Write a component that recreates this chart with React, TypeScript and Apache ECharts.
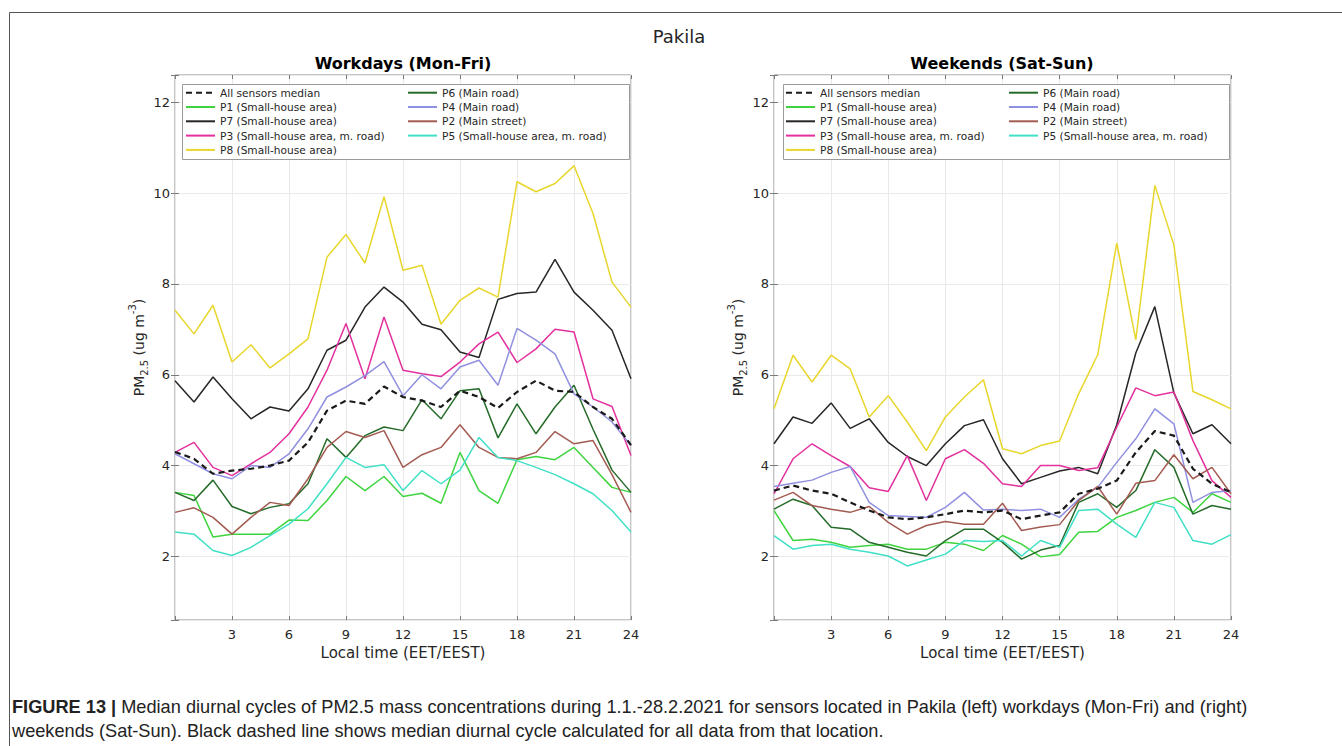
import React, { useEffect, useRef } from "react";
import * as echarts from "echarts";

const hours = [0, 1, 2, 3, 4, 5, 6, 7, 8, 9, 10, 11, 12, 13, 14, 15, 16, 17, 18, 19, 20, 21, 22, 23, 24];
const xTicks = [3, 6, 9, 12, 15, 18, 21, 24];

const seriesNames = [
  "All sensors median",
  "P1 (Small-house area)",
  "P7 (Small-house area)",
  "P3 (Small-house area, m. road)",
  "P8 (Small-house area)",
  "P6 (Main road)",
  "P4 (Main road)",
  "P2 (Main street)",
  "P5 (Small-house area, m. road)",
];
const legendCol1 = seriesNames.slice(0, 5);
const legendCol2 = seriesNames.slice(5);

const colors: Record<string, string> = {
  "All sensors median": "#1a1a1a",
  "P1 (Small-house area)": "#3fd43f",
  "P7 (Small-house area)": "#262626",
  "P3 (Small-house area, m. road)": "#e3309d",
  "P8 (Small-house area)": "#e8d62c",
  "P6 (Main road)": "#256b29",
  "P4 (Main road)": "#9090e0",
  "P2 (Main street)": "#a35b52",
  "P5 (Small-house area, m. road)": "#40e0c6",
};

// Workdays (Mon-Fri)
const wdMedian = [4.3, 4.15, 3.82, 3.89, 3.93, 4.0, 4.11, 4.51, 5.21, 5.43, 5.36, 5.74, 5.51, 5.43, 5.29, 5.65, 5.51, 5.27, 5.62, 5.87, 5.65, 5.62, 5.29, 5.03, 4.45];
const wdP1 = [3.41, 3.34, 2.43, 2.49, 2.49, 2.49, 2.8, 2.79, 3.23, 3.76, 3.45, 3.76, 3.32, 3.39, 3.17, 4.29, 3.45, 3.17, 4.13, 4.2, 4.13, 4.4, 3.96, 3.52, 3.41];
const wdP7 = [5.87, 5.4, 5.95, 5.47, 5.03, 5.29, 5.2, 5.69, 6.54, 6.76, 7.49, 7.93, 7.6, 7.11, 6.99, 6.5, 6.38, 7.66, 7.79, 7.82, 8.54, 7.82, 7.42, 6.98, 5.91];
const wdP3 = [4.29, 4.51, 3.96, 3.78, 4.04, 4.29, 4.7, 5.29, 6.1, 7.13, 5.91, 7.27, 6.1, 6.02, 5.96, 6.28, 6.68, 6.94, 6.27, 6.57, 7.0, 6.94, 5.47, 5.3, 4.22];
const wdP8 = [7.42, 6.9, 7.53, 6.28, 6.66, 6.15, 6.46, 6.79, 8.59, 9.09, 8.46, 9.92, 8.3, 8.41, 7.11, 7.64, 7.91, 7.71, 10.25, 10.03, 10.21, 10.6, 9.55, 8.04, 7.49];
const wdP6 = [3.41, 3.23, 3.68, 3.1, 2.94, 3.08, 3.16, 3.6, 4.59, 4.18, 4.66, 4.85, 4.77, 5.45, 5.03, 5.65, 5.69, 4.61, 5.36, 4.7, 5.29, 5.77, 4.8, 3.9, 3.41];
const wdP4 = [4.26, 4.04, 3.82, 3.71, 4.0, 3.96, 4.26, 4.81, 5.51, 5.73, 5.98, 6.29, 5.54, 6.0, 5.69, 6.17, 6.32, 5.77, 7.02, 6.76, 6.46, 5.58, 5.29, 4.96, 4.44];
const wdP2 = [2.97, 3.07, 2.86, 2.49, 2.86, 3.19, 3.12, 3.71, 4.4, 4.75, 4.62, 4.77, 3.96, 4.24, 4.4, 4.9, 4.4, 4.18, 4.15, 4.29, 4.75, 4.48, 4.55, 3.8, 2.97];
const wdP5 = [2.54, 2.49, 2.13, 2.02, 2.2, 2.46, 2.71, 3.05, 3.6, 4.18, 3.96, 4.02, 3.45, 3.89, 3.6, 3.9, 4.62, 4.18, 4.11, 3.96, 3.8, 3.6, 3.38, 3.01, 2.54];

// Weekends (Sat-Sun)
const weMedian = [3.45, 3.56, 3.45, 3.38, 3.19, 3.01, 2.86, 2.82, 2.86, 2.93, 3.01, 2.97, 3.01, 2.82, 2.9, 2.97, 3.38, 3.49, 3.67, 4.29, 4.76, 4.66, 3.93, 3.6, 3.41];
const weP1 = [3.01, 2.35, 2.38, 2.31, 2.2, 2.24, 2.27, 2.16, 2.16, 2.31, 2.27, 2.13, 2.46, 2.27, 1.99, 2.04, 2.53, 2.55, 2.86, 3.01, 3.19, 3.3, 2.97, 3.38, 3.19];
const weP7 = [4.48, 5.07, 4.93, 5.38, 4.82, 5.03, 4.51, 4.2, 4.0, 4.48, 4.88, 5.01, 4.15, 3.6, 3.74, 3.88, 3.96, 3.82, 4.9, 6.48, 7.5, 5.6, 4.7, 4.9, 4.48];
const weP3 = [3.38, 4.15, 4.48, 4.22, 3.98, 3.51, 3.43, 4.22, 3.23, 4.15, 4.35, 4.05, 3.6, 3.54, 4.0, 4.0, 3.89, 3.95, 4.85, 5.71, 5.54, 5.62, 4.55, 3.67, 3.3];
const weP8 = [5.25, 6.43, 5.84, 6.43, 6.13, 5.07, 5.54, 4.96, 4.33, 5.07, 5.51, 5.89, 4.37, 4.26, 4.44, 4.54, 5.58, 6.44, 8.9, 6.77, 10.17, 8.86, 5.63, 5.45, 5.25];
const weP6 = [3.04, 3.26, 3.12, 2.64, 2.6, 2.31, 2.2, 2.09, 2.01, 2.35, 2.6, 2.6, 2.31, 1.94, 2.14, 2.24, 3.19, 3.38, 3.08, 3.45, 4.35, 3.96, 2.93, 3.12, 3.04];
const weP4 = [3.54, 3.61, 3.68, 3.85, 3.98, 3.19, 2.9, 2.88, 2.86, 3.08, 3.41, 3.02, 3.04, 3.01, 3.04, 2.86, 3.26, 3.52, 4.07, 4.59, 5.25, 4.92, 3.19, 3.41, 3.45];
const weP2 = [3.24, 3.41, 3.12, 3.04, 2.97, 3.1, 2.75, 2.49, 2.68, 2.77, 2.71, 2.71, 3.17, 2.57, 2.65, 2.7, 3.23, 3.54, 2.93, 3.61, 3.67, 4.24, 3.71, 3.96, 3.38];
const weP5 = [2.46, 2.16, 2.24, 2.27, 2.16, 2.09, 2.01, 1.79, 1.92, 2.05, 2.35, 2.33, 2.35, 2.01, 2.35, 2.2, 3.01, 3.04, 2.71, 2.42, 3.19, 3.08, 2.35, 2.27, 2.48];

const workdays = [wdMedian, wdP1, wdP7, wdP3, wdP8, wdP6, wdP4, wdP2, wdP5];
const weekends = [weMedian, weP1, weP7, weP3, weP8, weP6, weP4, weP2, weP5];

const Y_MIN = 0.6;
const Y_MAX = 12.6;
const FONT = "DejaVu Sans";
const TXT = "#262626";
const CAP_FONT = "Liberation Sans";

const captionLine1Bold = "FIGURE 13 |";
const captionLine1 = " Median diurnal cycles of PM2.5 mass concentrations during 1.1.-28.2.2021 for sensors located in Pakila (left) workdays (Mon-Fri) and (right)";
const captionLine2 = "weekends (Sat-Sun). Black dashed line shows median diurnal cycle calculated for all data from that location.";

function buildOption() {
  const grids = [
    { left: 175, top: 75, width: 456, height: 545 },
    { left: 774, top: 75, width: 457, height: 545 },
  ].map((g) => ({ ...g, show: true, borderColor: "#8a8a8a", borderWidth: 1, backgroundColor: "#fff" }));

  const tickStyle = { show: true, inside: true, length: 4, lineStyle: { color: "#7a7a7a", width: 1 } };

  const xMain = (gi: number) => ({
    type: "value",
    gridIndex: gi,
    position: "bottom",
    min: 0,
    max: 24,
    interval: 3,
    axisLine: { show: false },
    axisTick: tickStyle,
    splitLine: { show: true, lineStyle: { color: "#e9e9e9", width: 1 } },
    axisLabel: {
      margin: 8,
      fontFamily: FONT,
      fontSize: 13,
      color: TXT,
      formatter: (v: number) => (xTicks.indexOf(v) >= 0 ? String(v) : ""),
    },
    name: "Local time (EET/EEST)",
    nameLocation: "middle",
    nameGap: 25,
    nameTextStyle: { fontFamily: FONT, fontSize: 15, color: TXT },
  });
  const xTop = (gi: number) => ({
    type: "value",
    gridIndex: gi,
    position: "top",
    min: 0,
    max: 24,
    interval: 3,
    axisLine: { show: false },
    axisTick: tickStyle,
    splitLine: { show: false },
    axisLabel: { show: false },
  });
  const yLabelFmt = (v: number) => {
    const r = Math.round(v);
    return Math.abs(v - r) < 1e-6 && r % 2 === 0 && r > 0 ? String(r) : "";
  };
  const yMain = (gi: number) => ({
    type: "value",
    gridIndex: gi,
    position: "left",
    min: Y_MIN,
    max: Y_MAX,
    splitNumber: 6,
    axisLine: { show: false },
    axisTick: tickStyle,
    splitLine: { show: true, lineStyle: { color: "#e9e9e9", width: 1 } },
    axisLabel: { margin: 5, fontFamily: FONT, fontSize: 13, color: TXT, formatter: yLabelFmt },
    name: "{a|PM}{s|2.5}{a| (ug m}{p|-3}{a|)}",
    nameLocation: "middle",
    nameRotate: 90,
    nameGap: 22,
    nameTextStyle: {
      fontFamily: FONT,
      fontSize: 14,
      color: TXT,
      rich: {
        a: { fontFamily: FONT, fontSize: 14, color: TXT, lineHeight: 22, verticalAlign: "middle" },
        s: { fontFamily: FONT, fontSize: 10, color: TXT, lineHeight: 22, verticalAlign: "bottom" },
        p: { fontFamily: FONT, fontSize: 10, color: TXT, lineHeight: 22, verticalAlign: "top" },
      },
    },
  });
  const yRight = (gi: number) => ({
    type: "value",
    gridIndex: gi,
    position: "right",
    min: Y_MIN,
    max: Y_MAX,
    splitNumber: 6,
    axisLine: { show: false },
    axisTick: tickStyle,
    splitLine: { show: false },
    axisLabel: { show: false },
  });

  const series: any[] = [];
  const addPanel = (sets: number[][], gi: number) => {
    sets.forEach((vals, i) => {
      const name = seriesNames[i];
      const isMedian = i === 0;
      series.push({
        type: "line",
        name,
        xAxisIndex: gi,
        yAxisIndex: gi,
        data: hours.map((h, k) => [h, vals[k]]),
        symbol: "none",
        z: isMedian ? 6 : 3,
        lineStyle: {
          color: colors[name],
          width: isMedian ? 2.2 : 1.5,
          type: isMedian ? [6, 4] : "solid",
        },
        itemStyle: { color: colors[name] },
        emphasis: { disabled: true },
      });
    });
  };
  addPanel(workdays, 0);
  addPanel(weekends, 1);

  const legendBase = {
    orient: "vertical",
    top: 87.1,
    itemWidth: 29,
    itemHeight: 14,
    itemGap: 3.1,
    padding: 0,
    selectedMode: false,
    z: 30,
    itemStyle: { opacity: 0, color: "rgba(0,0,0,0)", borderWidth: 0, borderColor: "rgba(0,0,0,0)" },
    textStyle: { fontFamily: FONT, fontSize: 10.6, color: TXT },
  };
  const legends = [
    { ...legendBase, left: 185, data: legendCol1 },
    { ...legendBase, left: 407, data: legendCol2 },
    { ...legendBase, left: 785, data: legendCol1 },
    { ...legendBase, left: 1008, data: legendCol2 },
  ];

  const graphic = [
    { type: "line", shape: { x1: 9.5, y1: 12.5, x2: 1342, y2: 12.5 }, style: { stroke: "#555", lineWidth: 1 }, z: 1 },
    { type: "line", shape: { x1: 9.5, y1: 12.5, x2: 9.5, y2: 746 }, style: { stroke: "#555", lineWidth: 1 }, z: 1 },
    { type: "rect", shape: { x: 182.5, y: 84.5, width: 447, height: 75 }, style: { fill: "#fff", stroke: "#9a9a9a", lineWidth: 1 }, z: 20 },
    { type: "rect", shape: { x: 783.5, y: 84.5, width: 446, height: 75 }, style: { fill: "#fff", stroke: "#9a9a9a", lineWidth: 1 }, z: 20 },
    {
      type: "text",
      x: 679,
      y: 36,
      style: { text: "Pakila", fontFamily: FONT, fontSize: 18, fill: TXT, align: "center", verticalAlign: "middle" },
    },
    {
      type: "text",
      x: 403,
      y: 63,
      style: { text: "Workdays (Mon-Fri)", fontFamily: FONT, fontSize: 16, fontWeight: "bold", fill: "#000", align: "center", verticalAlign: "middle" },
    },
    {
      type: "text",
      x: 1002,
      y: 63,
      style: { text: "Weekends (Sat-Sun)", fontFamily: FONT, fontSize: 16, fontWeight: "bold", fill: "#000", align: "center", verticalAlign: "middle" },
    },
    {
      type: "text",
      x: 12,
      y: 707,
      style: {
        text: "{b|" + captionLine1Bold + "}{n|" + captionLine1 + "}",
        verticalAlign: "middle",
        rich: {
          b: { fontFamily: CAP_FONT, fontSize: 18.2, fontWeight: "bold", fill: "#222" },
          n: { fontFamily: CAP_FONT, fontSize: 18.2, fill: "#222" },
        },
      },
    },
    {
      type: "text",
      x: 12,
      y: 731,
      style: { text: captionLine2, fontFamily: CAP_FONT, fontSize: 18.2, fill: "#222", verticalAlign: "middle" },
    },
  ];

  return {
    animation: false,
    backgroundColor: "#fff",
    grid: grids,
    xAxis: [xMain(0), xMain(1), xTop(0), xTop(1)],
    yAxis: [yMain(0), yMain(1), yRight(0), yRight(1)],
    legend: legends,
    series,
    graphic,
  };
}

export default function App() {
  const ref = useRef<HTMLDivElement>(null);
  useEffect(() => {
    if (!ref.current) return;
    const chart = echarts.init(ref.current, undefined, { renderer: "svg" });
    chart.setOption(buildOption() as any);
    return () => chart.dispose();
  }, []);
  return (
    <div
      ref={ref}
      style={{ position: "fixed", left: 0, top: 0, width: 1342, height: 746, background: "#fff" }}
    />
  );
}
